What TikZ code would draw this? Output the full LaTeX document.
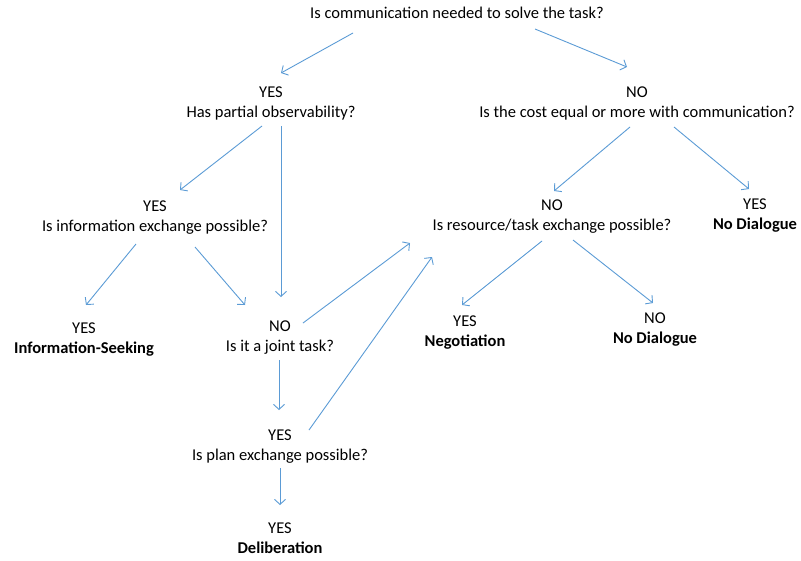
\documentclass[tikz,border=0pt]{standalone}
\usepackage{fontspec}
\setmainfont{Carlito}
\usetikzlibrary{arrows.meta,calc}
\definecolor{arrblue}{HTML}{5B9BD5}
\begin{document}
\begin{tikzpicture}[x=1pt,y=-1pt,
  txt/.style={align=center,inner sep=0pt,font=\fontsize{16.5}{20}\selectfont},
  res/.style={txt},
  arr/.style={draw=arrblue,line width=0.9pt,-{Straight Barb[length=5pt,width=11pt,line width=0.9pt]}}]
\useasboundingbox (0,0) rectangle (801,560);
\node[txt] (q0) at (457,13) {Is communication needed to solve the task?};
\node[txt] (q1) at (271,103) {YES\\Has partial observability?};
\node[txt] (q2) at (637,103) {NO\\Is the cost equal or more with communication?};
\node[txt] (q3) at (155,218) {YES\\Is information exchange possible?};
\node[txt] (q4) at (552,217) {NO\\Is resource/task exchange possible?};
\node[txt] (r1) at (755,216) {YES\\\textbf{No Dialogue}};
\node[txt] (r2) at (84,340) {YES\\\textbf{Information-Seeking}};
\node[txt] (q5) at (280,338) {NO\\Is it a joint task?};
\node[txt] (r3) at (465,333) {YES\\\textbf{Negotiation}};
\node[txt] (r4) at (655,330) {NO\\\textbf{No Dialogue}};
\node[txt] (q6) at (280,447) {YES\\Is plan exchange possible?};
\node[txt] (r5) at (280,538) {YES\\\textbf{Deliberation}};

\draw[arr] ($(q0)+(-104,20)$) -- ($(q1)+(10,-30)$);
\draw[arr] ($(q0)+(78,16)$) -- ($(q2)+(-10,-36)$);
\draw[arr] ($(q1)+(-9,23)$) -- ($(q3)+(25,-28)$);
\draw[arr] ($(q1)+(10,23)$) -- ($(q5)+(1,-41)$);
\draw[arr] ($(q3)+(-19,26)$) -- ($(r2)+(2,-35)$);
\draw[arr] ($(q3)+(40,29)$) -- ($(q5)+(-35,-33)$);
\draw[arr] ($(q2)+(-7,24)$) -- ($(q4)+(2,-26)$);
\draw[arr] ($(q2)+(37,24)$) -- ($(r1)+(-6,-27)$);
\draw[arr] ($(q4)+(-10,24)$) -- ($(r3)+(-3,-28)$);
\draw[arr] ($(q4)+(21,23)$) -- ($(r4)+(-2,-27)$);
\draw[arr] ($(q5)+(23,-15)$) -- ($(q4)+(-142,26)$);
\draw[arr] ($(q6)+(29,-17)$) -- ($(q4)+(-120,40)$);
\draw[arr] ($(q5)+(-1,22)$) -- ($(q6)+(-1,-37)$);
\draw[arr] ($(q6)+(0,21)$) -- ($(r5)+(0,-33)$);
\end{tikzpicture}
\end{document}
